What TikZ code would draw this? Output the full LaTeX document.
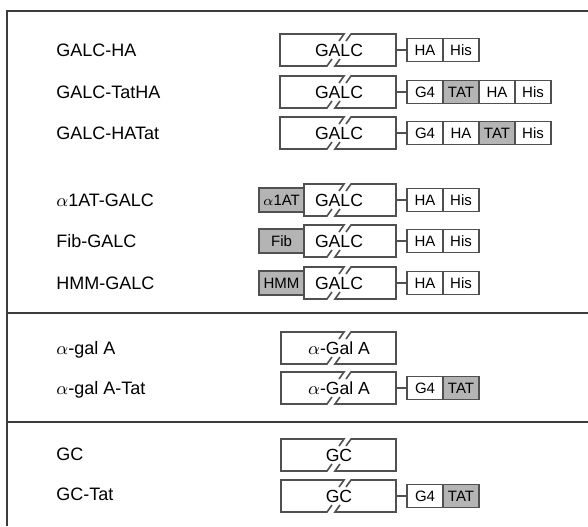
\documentclass[tikz,border=0pt]{standalone}
\usepackage{fontspec}
\setmainfont{Liberation Sans}
\usetikzlibrary{positioning}
\definecolor{linegray}{HTML}{505050}
\definecolor{framegray}{HTML}{3C3C3C}
\definecolor{taggray}{HTML}{B4B4B4}
% broken coding region: name, left edge, row, text
\newcommand{\splitbox}[4]{%
	\node[genetext] (#1) at (339,#3) {#4};
	\coordinate (#1-w) at (#2,#3);
	\coordinate (#1-e) at (396,#3);
	\draw[boxline] (339,#3-9) -- (344,#3-16) -- (#2,#3-16) -- (#2,#3+16) -- (327,#3+16) -- (332,#3+9);
	\draw[boxline] (346,#3-9) -- (351,#3-16) -- (396,#3-16) -- (396,#3+16) -- (335,#3+16) -- (340,#3+9);
}
\begin{document}
\begin{tikzpicture}[x=0.5pt,y=-0.5pt,
	boxline/.style={draw=linegray,line width=0.8pt},
	frame/.style={draw=framegray,line width=1.4pt},
	part/.style={boxline,fill=white,minimum width=18pt,minimum height=11.5pt,inner sep=0pt,outer sep=0pt,
		text height=5.4pt,text depth=0pt,font=\fontsize{7.5}{9}\selectfont},
	shaded/.style={part,fill=taggray},
	tag/.style={shaded,minimum width=22.5pt,minimum height=12pt},
	genetext/.style={inner sep=0pt,text height=6.3pt,text depth=0pt,font=\fontsize{8.8}{10}\selectfont},
	rowname/.style={anchor=west,inner sep=0pt,text height=6.4pt,text depth=0pt,font=\fontsize{9}{11}\selectfont}]
	\useasboundingbox (0,0) rectangle (588,526);
	\draw[frame] (588,11) -- (7,11) -- (7,526);
	\draw[frame] (7,313) -- (588,313);
	\draw[frame] (7,422) -- (588,422);
	% GALC constructs
	\node[rowname] (n1) at (56,50) {GALC-HA};
	\splitbox{galc1}{280}{50}{GALC}
	\node[part,right=5.5pt of galc1-e] (ha1) {HA};
	\node[part,right=0pt of ha1] (his1) {His};
	\draw[boxline] (galc1-e) -- (ha1);
	\node[rowname] (n2) at (56,92) {GALC-TatHA};
	\splitbox{galc2}{280}{92}{GALC}
	\node[part,right=5.5pt of galc2-e] (g42) {G4};
	\node[shaded,right=0pt of g42] (tat2) {TAT};
	\node[part,right=0pt of tat2] (ha2) {HA};
	\node[part,right=0pt of ha2] (his2) {His};
	\draw[boxline] (galc2-e) -- (g42);
	\node[rowname] (n3) at (56,133) {GALC-HATat};
	\splitbox{galc3}{280}{133}{GALC}
	\node[part,right=5.5pt of galc3-e] (g43) {G4};
	\node[part,right=0pt of g43] (ha3) {HA};
	\node[shaded,right=0pt of ha3] (tat3) {TAT};
	\node[part,right=0pt of tat3] (his3) {His};
	\draw[boxline] (galc3-e) -- (g43);
	\node[rowname] (n4) at (56,200) {$\alpha$1AT-GALC};
	\splitbox{galc4}{304}{200}{GALC}
	\node[tag,left=0pt of galc4-w] (a1at) {$\alpha$1AT};
	\node[part,right=5.5pt of galc4-e] (ha4) {HA};
	\node[part,right=0pt of ha4] (his4) {His};
	\draw[boxline] (galc4-e) -- (ha4);
	\node[rowname] (n5) at (56,241) {Fib-GALC};
	\splitbox{galc5}{304}{241}{GALC}
	\node[tag,left=0pt of galc5-w] (fib) {Fib};
	\node[part,right=5.5pt of galc5-e] (ha5) {HA};
	\node[part,right=0pt of ha5] (his5) {His};
	\draw[boxline] (galc5-e) -- (ha5);
	\node[rowname] (n6) at (56,283) {HMM-GALC};
	\splitbox{galc6}{304}{283}{GALC}
	\node[tag,left=0pt of galc6-w] (hmm) {HMM};
	\node[part,right=5.5pt of galc6-e] (ha6) {HA};
	\node[part,right=0pt of ha6] (his6) {His};
	\draw[boxline] (galc6-e) -- (ha6);
	% alpha-gal A
	\node[rowname] (n7) at (56,348) {$\alpha$-gal A};
	\splitbox{gla7}{281}{348}{$\alpha$-Gal A}
	\node[rowname] (n8) at (56,388) {$\alpha$-gal A-Tat};
	\splitbox{gla8}{281}{388}{$\alpha$-Gal A}
	\node[part,right=5.5pt of gla8-e] (g48) {G4};
	\node[shaded,right=0pt of g48] (tat8) {TAT};
	\draw[boxline] (gla8-e) -- (g48);
	% GC
	\node[rowname] (n9) at (56,454) {GC};
	\splitbox{gc9}{281}{455}{GC}
	\node[rowname] (n10) at (56,494) {GC-Tat};
	\splitbox{gc10}{281}{496}{GC}
	\node[part,right=5.5pt of gc10-e] (g410) {G4};
	\node[shaded,right=0pt of g410] (tat10) {TAT};
	\draw[boxline] (gc10-e) -- (g410);
\end{tikzpicture}
\end{document}
